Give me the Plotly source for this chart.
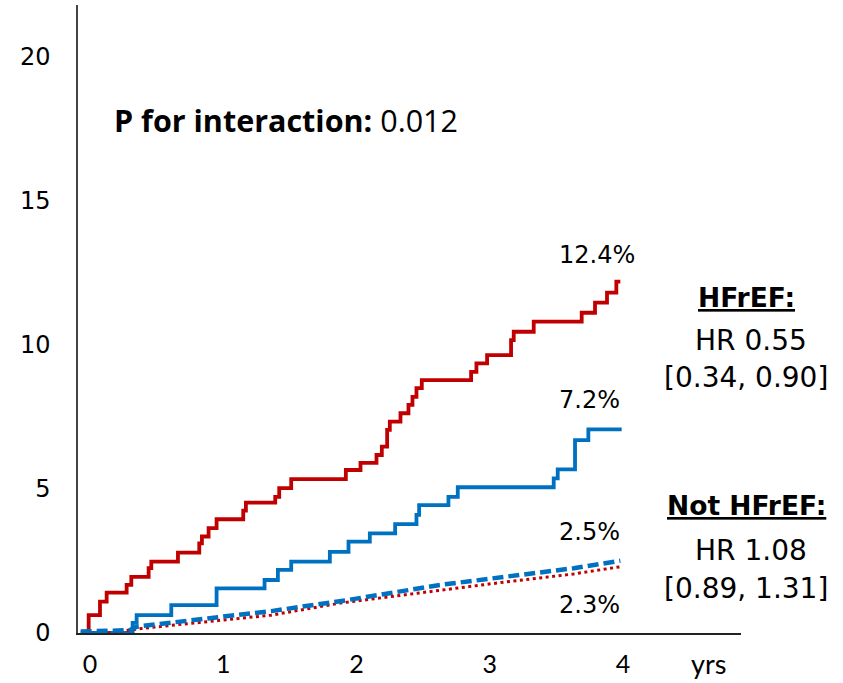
import plotly.graph_objects as go

# HFrEF, control arm (solid red)
red_t = [-0.01, 0.075, 0.125, 0.275, 0.31, 0.44, 0.46, 0.66, 0.82, 0.84, 0.89, 0.95, 1.15, 1.17, 1.39, 1.42, 1.51,
         1.92, 2.03, 2.15, 2.19, 2.23, 2.25, 2.33, 2.39, 2.42, 2.45, 2.49, 2.86, 2.90, 2.98, 3.16, 3.18, 3.33,
         3.69, 3.79, 3.88, 3.95, 3.98]
red_v = [0.62, 1.09, 1.40, 1.67, 1.95, 2.25, 2.48, 2.79, 3.11, 3.35, 3.64, 3.95, 4.25, 4.53, 4.73, 5.03, 5.34,
         5.66, 5.91, 6.18, 6.47, 7.05, 7.34, 7.63, 7.92, 8.20, 8.50, 8.78, 9.07, 9.36, 9.65, 10.17, 10.46, 10.81,
         11.12, 11.47, 11.82, 12.20, 12.20]

# HFrEF, treatment arm (solid blue)
blue_t = [-0.07, 0.32, 0.35, 0.61, 0.95, 1.31, 1.41, 1.51, 1.80, 1.94, 2.10, 2.29, 2.45, 2.47, 2.69, 2.76,
          3.48, 3.51, 3.64, 3.74, 3.99]
blue_v = [0.0, 0.35, 0.62, 0.97, 1.55, 1.84, 2.19, 2.48, 2.82, 3.17, 3.46, 3.78, 4.10, 4.44, 4.73, 5.06,
          5.37, 5.68, 6.70, 7.07, 7.07]

# Not HFrEF, treatment arm (dashed blue)
bdash_t = [-0.07, 0.30, 0.35, 0.64, 1.00, 1.36, 1.90, 2.63, 3.13, 3.63, 3.98]
bdash_v = [0.05, 0.10, 0.22, 0.39, 0.57, 0.76, 1.12, 1.67, 1.95, 2.25, 2.51]

# Not HFrEF, control arm (dotted red)
rdot_t = [0.13, 0.39, 0.64, 1.01, 1.36, 1.88, 2.63, 3.13, 3.63, 3.98]
rdot_v = [0.0, 0.16, 0.28, 0.45, 0.62, 1.04, 1.49, 1.78, 2.05, 2.30]

x_ticks = [0, 1, 2, 3, 4]
y_ticks = [0, 5, 10, 15, 20]

RED = "#C00000"
BLUE = "#0070C0"

fig = go.Figure()
fig.add_trace(go.Scatter(x=[-0.01] + red_t, y=[0.0] + red_v, mode="lines", line_shape="hv",
                         line=dict(color=RED, width=3.8), showlegend=False))
fig.add_trace(go.Scatter(x=blue_t, y=blue_v, mode="lines", line_shape="hv",
                         line=dict(color=BLUE, width=3.8), showlegend=False))
fig.add_trace(go.Scatter(x=rdot_t, y=rdot_v, mode="lines",
                         line=dict(color=RED, width=3, dash="3px,3.5px"), showlegend=False))
fig.add_trace(go.Scatter(x=bdash_t, y=bdash_v, mode="lines",
                         line=dict(color=BLUE, width=4.5, dash="11px,5px"), showlegend=False))

L, R, T, B = 78, 102, 5, 50
W, H = 843, 683
PW, PH = W - L - R, H - T - B

def px2p(px):
    return (px - L) / PW

def py2p(py):
    return (H - B - py) / PH

def px2x(px):
    return (px - 90) / 133.25

TXT = "DejaVu Sans"
ann = []
ann.append(dict(x=px2p(112), y=py2p(120), xanchor="left", yanchor="middle",
                text="<b>P for interaction:</b> 0.012", font=dict(family="Open Sans", size=30.5, color="black")))
for lbl, py in [("12.4%", 255), ("7.2%", 400), ("2.5%", 532), ("2.3%", 605)]:
    ann.append(dict(x=px2p(557), y=py2p(py), xanchor="left", yanchor="middle", text=lbl,
                    font=dict(family=TXT, size=24, color="black")))
for lbl, px, py, bold in [("HFrEF:", 746, 297, True), ("HR 0.55", 751, 340, False), ("[0.34, 0.90]", 746, 377, False),
                          ("Not HFrEF:", 746, 505, True), ("HR 1.08", 751, 550, False), ("[0.89, 1.31]", 746, 588, False)]:
    t = f"<b><u>{lbl}</u></b>" if bold else lbl
    ann.append(dict(x=px2p(px), y=py2p(py), xanchor="center", yanchor="middle", text=t,
                    font=dict(family=TXT, size=26.5 if bold else 28, color="black")))
ann.append(dict(x=px2p(708), y=py2p(663), xanchor="center", yanchor="middle", text="yrs",
                font=dict(family="Lato", size=27, color="black")))
for a in ann:
    a.update(xref="paper", yref="paper", showarrow=False)

fig.update_layout(
    width=W, height=H,
    margin=dict(l=L, r=R, t=T, b=B),
    plot_bgcolor="white", paper_bgcolor="white",
    annotations=ann,
    xaxis=dict(range=[px2x(78), px2x(741)], tickvals=x_ticks, ticktext=[str(v) for v in x_ticks],
               automargin=False,
               showgrid=False, zeroline=False, showline=True, linecolor="#222222", linewidth=1.5,
               ticks="", ticklabelstandoff=8, tickfont=dict(family="Lato", size=25, color="black")),
    yaxis=dict(range=[0, 628 / 28.8], tickvals=y_ticks, ticktext=[str(v) for v in y_ticks],
               automargin=False,
               showgrid=False, zeroline=False, showline=True, linecolor="#444444", linewidth=1.5,
               ticks="", ticklabelstandoff=21, tickfont=dict(family=TXT, size=24, color="black")),
)

fig.write_html("out.html")
